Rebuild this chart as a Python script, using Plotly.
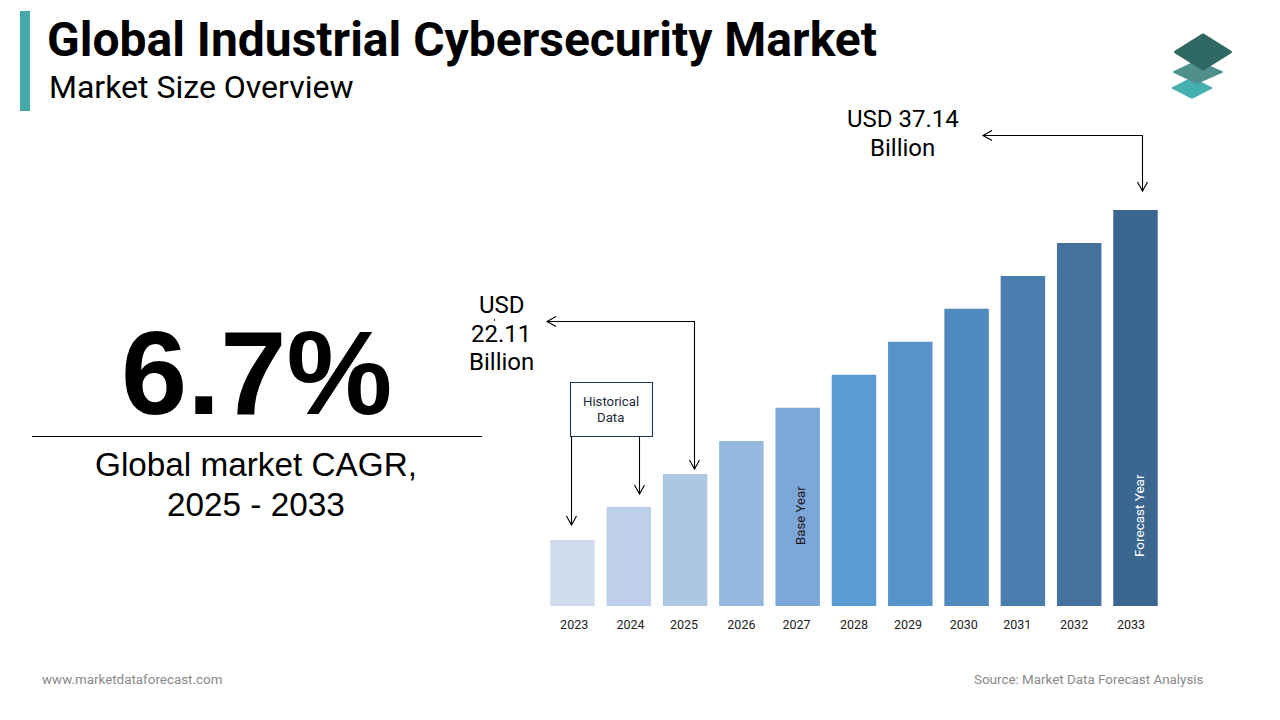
import plotly.graph_objects as go

years = [2023, 2024, 2025, 2026, 2027, 2028, 2029, 2030, 2031, 2032, 2033]
market_size = [18.35, 20.23, 22.11, 23.99, 25.87, 27.75, 29.63, 31.51, 33.38, 35.26, 37.14]
year_labels = ["2023", "2024", "2025", "2026", "2027", "2028", "2029", "2030", "2031", "2032", "2033"]

bar_colors = ["#D0DCEE", "#BED0E9", "#ADC6E4", "#97B8DE", "#7CA7D8", "#5B9BD5",
              "#5793C8", "#4F89BD", "#4A7EAF", "#44719D", "#3A668F"]
# the year labels sit a little off their bars in the original
label_nudge = [0.03, 0.03, -0.02, 0, -0.02, 0, -0.04, -0.05, -0.1, -0.09, -0.08]

# browser keeps its 8px body margin, so the figure starts at 8,8 of the screenshot
OFFSET = 8
W = 1264
H = 704
ROBOTO = "Roboto"
ARIAL = "Liberation Sans"


def px(x):
    return (x - OFFSET) / W


def py(y):
    return 1 - (y - OFFSET) / H


def text(x, y, s, size, font=ROBOTO, color="#000000", bold=False, anchor="center", angle=0):
    fig.add_annotation(x=px(x), y=py(y), xref="paper", yref="paper", text="<b>" + s + "</b>" if bold else s,
                       showarrow=False, xanchor=anchor, yanchor="middle", textangle=angle,
                       font=dict(family=font, size=size, color=color))


def line(points, color="#000000", width=1.1):
    path = "M " + " L ".join(str(px(x)) + " " + str(py(y)) for x, y in points)
    fig.add_shape(type="path", path=path, xref="paper", yref="paper", line=dict(color=color, width=width))


def head(x, y, direction):
    # open arrow head, tip at x,y
    if direction == "down":
        line([(x - 5, y - 9), (x, y), (x + 5, y - 9)])
    else:
        line([(x + 9, y - 5), (x, y), (x + 9, y + 5)])


def plate(left, top, right, bottom, mid_x, color):
    # flat diamond with rounded corners
    mid_y = (top + bottom) / 2
    corners = [(left, mid_y), (mid_x, top), (right, mid_y), (mid_x, bottom)]
    path = ""
    for i, (cx, cy) in enumerate(corners):
        ax, ay = corners[i - 1]
        bx, by = corners[(i + 1) % 4]
        start = (cx + (ax - cx) * 0.06, cy + (ay - cy) * 0.06)
        end = (cx + (bx - cx) * 0.06, cy + (by - cy) * 0.06)
        path += ("M " if i == 0 else "L ") + str(px(start[0])) + " " + str(py(start[1])) + " "
        path += "Q " + str(px(cx)) + " " + str(py(cy)) + " " + str(px(end[0])) + " " + str(py(end[1])) + " "
    fig.add_shape(type="path", path=path + "Z", xref="paper", yref="paper", fillcolor=color, line=dict(width=0))


fig = go.Figure()
fig.add_trace(go.Bar(x=years, y=market_size, marker=dict(color=bar_colors, line=dict(width=0)), width=0.79))

fig.update_layout(width=W, height=H, autosize=False, margin=dict(l=0, r=0, t=0, b=0), showlegend=False,
                  paper_bgcolor="#FFFFFF", plot_bgcolor="#FFFFFF")
fig.update_xaxes(domain=[px(540), px(1170)], range=[2022.423, 2033.613], tickmode="array",
                 tickvals=[y + n for y, n in zip(years, label_nudge)], ticktext=year_labels,
                 showgrid=False, zeroline=False, showline=False, ticks="outside", ticklen=7,
                 tickcolor="rgba(0,0,0,0)", tickfont=dict(family=ROBOTO, size=12.5, color="#222222"))
fig.update_yaxes(domain=[py(606), py(150)], range=[14.59, 40.55], visible=False)

# header
fig.add_shape(type="rect", xref="paper", yref="paper", x0=px(20), x1=px(30), y0=py(111), y1=py(11),
              fillcolor="#45A9A8", line=dict(width=0))
text(45, 40, "Global Industrial Cybersecurity Market", 48, bold=True, anchor="left")
text(47, 87, "Market Size Overview", 32, anchor="left")

# logo
plate(1171, 77, 1213, 99, 1192, "#46AFAF")
plate(1172, 60, 1224, 84, 1197, "#4F8F8C")
plate(1173, 33, 1233, 71, 1203, "#2F6763")

# CAGR block
text(256, 372, "6.7%", 119, font=ARIAL, bold=True)
line([(32, 436.5), (482, 436.5)], width=1)
text(255.5, 464, "Global market CAGR,", 33.3, font=ARIAL)
text(255.5, 504, "2025 - 2033", 33.3, font=ARIAL)

# value callouts
text(902.5, 119, "USD 37.14", 24)
text(902.5, 148, "Billion", 24)
line([(983, 135.5), (1142.5, 135.5), (1142.5, 191)])
head(983, 135.5, "left")
head(1142.5, 191, "down")

text(501.5, 305, "USD", 24)
text(501, 334, "22.11", 24)
text(501.5, 362, "Billion", 24)
line([(494.5, 319), (494.5, 321)], width=0.8)
line([(547, 321.5), (694.5, 321.5), (694.5, 469)])
head(547, 321.5, "left")
head(694.5, 469, "down")

# historical data box
fig.add_shape(type="rect", xref="paper", yref="paper", x0=px(570.5), x1=px(652.5), y0=py(436.5), y1=py(382.5),
              line=dict(color="#1F3552", width=1.1))
text(610.5, 401.5, "Historical", 13.2, color="#1F2A3A")
text(610.5, 417.5, "Data", 13.2, color="#1F2A3A")
line([(571.5, 436), (571.5, 525)])
head(571.5, 525, "down")
line([(639.5, 436), (639.5, 494)])
head(639.5, 494, "down")

text(800, 516, "Base Year", 13.2, color="#1A1A1A", angle=-90)
text(1139, 516, "Forecast Year", 13.5, color="#FFFFFF", angle=-90)

# footer
text(40, 679, "www.marketdataforecast.com", 13.4, color="#8A8A8A", anchor="left")
text(1206, 679, "Source: Market Data Forecast Analysis", 13.4, color="#8A8A8A", anchor="right")

fig.write_html("out.html")
